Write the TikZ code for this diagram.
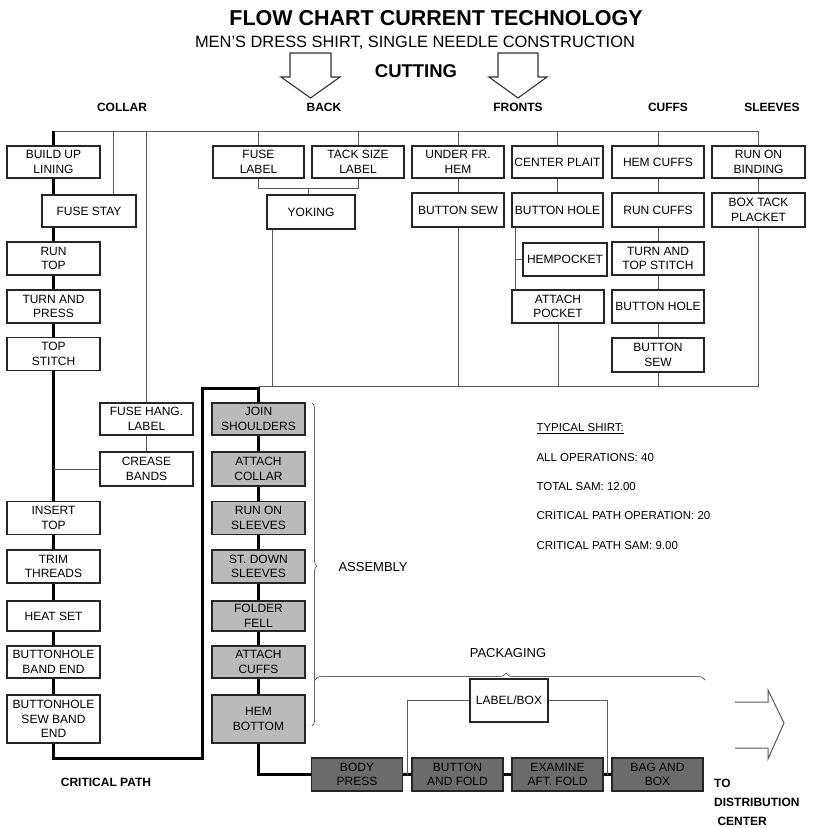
\documentclass[tikz,border=0pt]{standalone}
\usepackage{fontspec}
\setmainfont{Liberation Sans}
\usetikzlibrary{calc,decorations.pathreplacing}
\pgfdeclarelayer{bg}
\pgfsetlayers{bg,main}
\begin{document}
\begin{tikzpicture}[x=1pt,y=-1pt,
  box/.style={draw=black!85, line width=1.1pt, minimum width=93pt, minimum height=33pt,
    inner sep=0pt, align=center, fill=white, font=\fontsize{12}{14.5}\selectfont},
  asm/.style={box, fill=black!27},
  pack/.style={box, fill=black!58, minimum width=91pt},
  conn/.style={draw=black!65, line width=0.9pt},
  crit/.style={draw=black, line width=3pt},
  outline/.style={draw=black!80, line width=1.1pt},
  hdr/.style={font=\fontsize{12}{14}\selectfont\bfseries},
  info/.style={anchor=west, font=\fontsize{11.5}{14}\selectfont},
  bracestyle/.style={draw=black!60, line width=0.8pt, decorate}
]
\useasboundingbox (0,0) rectangle (813,828);

% titles
\node (title) at (436,18) {\fontsize{21.5}{24}\selectfont\bfseries FLOW CHART CURRENT TECHNOLOGY};
\node (subtitle) at (415,43) {\fontsize{16.4}{18}\selectfont MEN'S DRESS SHIRT, SINGLE NEEDLE CONSTRUCTION};
\node (cutting) at (416,71) {\fontsize{18.5}{20}\selectfont\bfseries CUTTING};
\draw[outline] (290,53) -- (331,53) -- (331,77) -- (340,77) -- (310.5,98) -- (281,77) -- (290,77) -- cycle;
\draw[outline] (498,53) -- (538,53) -- (538,77) -- (547,77) -- (518,98) -- (489,77) -- (498,77) -- cycle;

\node[hdr] (hcollar) at (122,107) {COLLAR};
\node[hdr] (hback) at (324,107) {BACK};
\node[hdr] (hfronts) at (518,107) {FRONTS};
\node[hdr] (hcuffs) at (668,107) {CUFFS};
\node[hdr] (hsleeves) at (772,107) {SLEEVES};

\coordinate (tb) at (0,131);
\coordinate (mb) at (0,386);

% collar column
\node[box, minimum height=32pt] (bul) at (53.5,162) {BUILD UP\\LINING};
\node[box, minimum width=94pt, minimum height=32pt] (fusestay) at (89,211) {FUSE STAY};
\node[box] (runtop) at (53.5,258.5) {RUN\\TOP};
\node[box] (turnpress) at (53.5,306.5) {TURN AND\\PRESS};
\node[box] (topstitch) at (53.5,354) {TOP\\STITCH};
\node[box, minimum height=32pt] (fusehang) at (146.5,419) {FUSE HANG.\\LABEL};
\node[box, minimum height=34pt] (crease) at (146.5,469) {CREASE\\BANDS};
\node[box] (inserttop) at (53.5,518) {INSERT\\TOP};
\node[box] (trim) at (53.5,566.5) {TRIM\\THREADS};
\node[box, minimum height=30pt] (heatset) at (53.5,616) {HEAT SET};
\node[box, minimum height=32pt] (bhband) at (53.5,662) {BUTTONHOLE\\BAND END};
\node[box, minimum height=48pt] (bhsew) at (53.5,719) {BUTTONHOLE\\SEW BAND\\END};

% back
\node[box, minimum width=91pt, minimum height=32pt] (fuselabel) at (258.5,162) {FUSE\\LABEL};
\node[box, minimum width=92pt, minimum height=32pt] (tacksize) at (358,162) {TACK SIZE\\LABEL};
\node[box, minimum width=88pt, minimum height=34pt] (yoking) at (311,212) {YOKING};

% fronts
\node[box, minimum width=92pt, minimum height=32pt] (underfr) at (458,162) {UNDER FR.\\HEM};
\node[box, minimum width=92pt, minimum height=34pt] (buttonsew) at (458,210) {BUTTON SEW};
\node[box, minimum width=91pt, minimum height=32pt] (centerplait) at (557.5,162) {CENTER PLAIT};
\node[box, minimum width=91pt, minimum height=34pt] (buttonhole) at (557.5,210) {BUTTON HOLE};
\node[box, minimum width=84pt] (hempocket) at (565,259.5) {HEMPOCKET};
\node[box, minimum width=92pt] (attachpocket) at (558,306.5) {ATTACH\\POCKET};

% cuffs
\node[box, minimum width=92pt, minimum height=32pt] (hemcuffs) at (658,162) {HEM CUFFS};
\node[box, minimum width=92pt, minimum height=34pt] (runcuffs) at (658,210) {RUN CUFFS};
\node[box, minimum width=92pt] (turntop) at (658,258.5) {TURN AND\\TOP STITCH};
\node[box, minimum width=92pt] (bhcuffs) at (658,306.5) {BUTTON HOLE};
\node[box, minimum width=92pt, minimum height=34pt] (bscuffs) at (658,355) {BUTTON\\SEW};

% sleeves
\node[box, minimum height=32pt] (runbinding) at (758.5,162) {RUN ON\\BINDING};
\node[box, minimum height=34pt] (boxtack) at (758.5,210) {BOX TACK\\PLACKET};

% assembly
\node[asm, minimum height=32pt] (join) at (258.5,419) {JOIN\\SHOULDERS};
\node[asm, minimum height=34pt] (attcollar) at (258.5,469) {ATTACH\\COLLAR};
\node[asm] (runsleeves) at (258.5,518) {RUN ON\\SLEEVES};
\node[asm] (stdown) at (258.5,566.5) {ST. DOWN\\SLEEVES};
\node[asm, minimum height=30pt] (folder) at (258.5,616) {FOLDER\\FELL};
\node[asm, minimum height=32pt] (attcuffs) at (258.5,662) {ATTACH\\CUFFS};
\node[asm, minimum height=48pt] (hembottom) at (258.5,719) {HEM\\BOTTOM};

% packaging
\node[pack] (bodypress) at (357,774.5) {BODY\\PRESS};
\node[pack] (buttonfold) at (457.5,774.5) {BUTTON\\AND FOLD};
\node[pack] (examine) at (557.5,774.5) {EXAMINE\\AFT. FOLD};
\node[pack] (bagbox) at (657.5,774.5) {BAG AND\\BOX};
\node[box, minimum width=78pt, minimum height=43pt] (labelbox) at (509,700.5) {LABEL/BOX};

\begin{pgfonlayer}{bg}
% top bus and feeders
\draw[conn] (bul.north |- tb) -- (runbinding.north |- tb);
\draw[crit] (bul.north) -- (bul.north |- tb);
\coordinate (fsx) at ([xshift=24pt]fusestay.north);
\draw[conn] (fsx) -- (fsx |- tb);
\draw[conn] (fusehang.north) -- (fusehang.north |- tb);
\foreach \n in {fuselabel,tacksize,underfr,centerplait,hemcuffs,runbinding}
  \draw[conn] (\n.north) -- (\n.north |- tb);

% collar chain
\draw[crit] (bul.south) -- (runtop.north);
\draw[conn] (fusestay.west) -- (fusestay.west -| bul.south);
\draw[crit] (runtop.south) -- (turnpress.north);
\draw[crit] (turnpress.south) -- (topstitch.north);
\draw[crit] (topstitch.south) -- (inserttop.north);
\draw[conn] (fusehang.south) -- (crease.north);
\draw[conn] (crease.west) -- (crease.west -| topstitch.south);
\draw[crit] (inserttop.south) -- (trim.north);
\draw[crit] (trim.south) -- (heatset.north);
\draw[crit] (heatset.south) -- (bhband.north);
\draw[crit] (bhband.south) -- (bhsew.north);
\coordinate (cp1) at (202,758);
\coordinate (cp2) at (202,388);
\draw[crit, line join=miter] (bhsew.south) |- (cp1) -- (cp2) -| (join.north);

% back links
\coordinate (yk) at (0,188);
\coordinate (ykm) at ($(fuselabel.south)!0.5!(tacksize.south)$);
\draw[conn] (fuselabel.south) -- (fuselabel.south |- yk) -- (tacksize.south |- yk) -- (tacksize.south);
\draw[conn] (ykm |- yk) -- (ykm |- yoking.north);
\coordinate (ykx) at ([xshift=-39pt]yoking.south);
\draw[conn] (ykx) -- (ykx |- mb);

% fronts links
\draw[conn] (underfr.south) -- (buttonsew.north);
\draw[conn] (buttonsew.south) -- (buttonsew.south |- mb);
\draw[conn] (centerplait.south) -- (buttonhole.north);
\coordinate (bhl) at ([xshift=-42.5pt]buttonhole.south);
\draw[conn] (bhl) -- (bhl |- attachpocket.north);
\draw[conn] (hempocket.west) -- (hempocket.west -| bhl);
\draw[conn] (attachpocket.south) -- (attachpocket.south |- mb);

% cuffs links
\draw[conn] (hemcuffs.south) -- (runcuffs.north);
\draw[conn] (runcuffs.south) -- (turntop.north);
\draw[conn] (turntop.south) -- (bhcuffs.north);
\draw[conn] (bhcuffs.south) -- (bscuffs.north);
\draw[conn] (bscuffs.south) -- (bscuffs.south |- mb);

% sleeves links
\draw[conn] (runbinding.south) -- (boxtack.north);
\draw[conn] (boxtack.south) -- (boxtack.south |- mb);

% middle bus
\draw[conn] (join.north |- mb) -- (boxtack.south |- mb);

% assembly chain
\draw[crit] (join.south) -- (attcollar.north);
\draw[crit] (attcollar.south) -- (runsleeves.north);
\draw[crit] (runsleeves.south) -- (stdown.north);
\draw[crit] (stdown.south) -- (folder.north);
\draw[crit] (folder.south) -- (attcuffs.north);
\draw[crit] (attcuffs.south) -- (hembottom.north);
\draw[crit, line join=miter] (hembottom.south) |- (bodypress.west);
\draw[crit] (bodypress.east) -- (buttonfold.west);
\draw[crit] (buttonfold.east) -- (examine.west);
\draw[crit] (examine.east) -- (bagbox.west);
\draw[conn] (labelbox.west) -| ($(bodypress.east)!0.5!(buttonfold.west)$);
\draw[conn] (labelbox.east) -| ($(examine.east)!0.5!(bagbox.west)$);
\end{pgfonlayer}

% braces
\draw[bracestyle, decoration={brace, amplitude=5pt, aspect=0.505}] (312,403) -- (312,726);
\node[anchor=west, font=\fontsize{13}{15}\selectfont] (assembly) at (335,567) {ASSEMBLY};
\draw[bracestyle, decoration={brace, amplitude=7pt, aspect=0.49}] (315,680) -- (705,680);
\node[font=\fontsize{13}{15}\selectfont] (packaging) at (508,653) {PACKAGING};

% info
\node[info] (typ) at (533,429) {\underline{TYPICAL SHIRT:}};
\node[info] (allops) at (533,458) {ALL OPERATIONS: 40};
\node[info] (totsam) at (533,487) {TOTAL SAM: 12.00};
\node[info] (cpop) at (533,516) {CRITICAL PATH OPERATION: 20};
\node[info] (cpsam) at (533,546) {CRITICAL PATH SAM: 9.00};

\node[font=\fontsize{12}{14}\selectfont\bfseries] (critpath) at (106,782) {CRITICAL PATH};
\node[anchor=north west, align=left, inner sep=0pt, font=\fontsize{12}{19}\selectfont\bfseries] (todist) at (714,779) {TO\\DISTRIBUTION\\\ CENTER};

% exit arrow
\draw[draw=black!65, line width=1pt, line join=miter] (735,702) -- (768,702) -- (768,690) -- (784,723) -- (768,759) -- (768,748) -- (735,748);
\end{tikzpicture}
\end{document}
